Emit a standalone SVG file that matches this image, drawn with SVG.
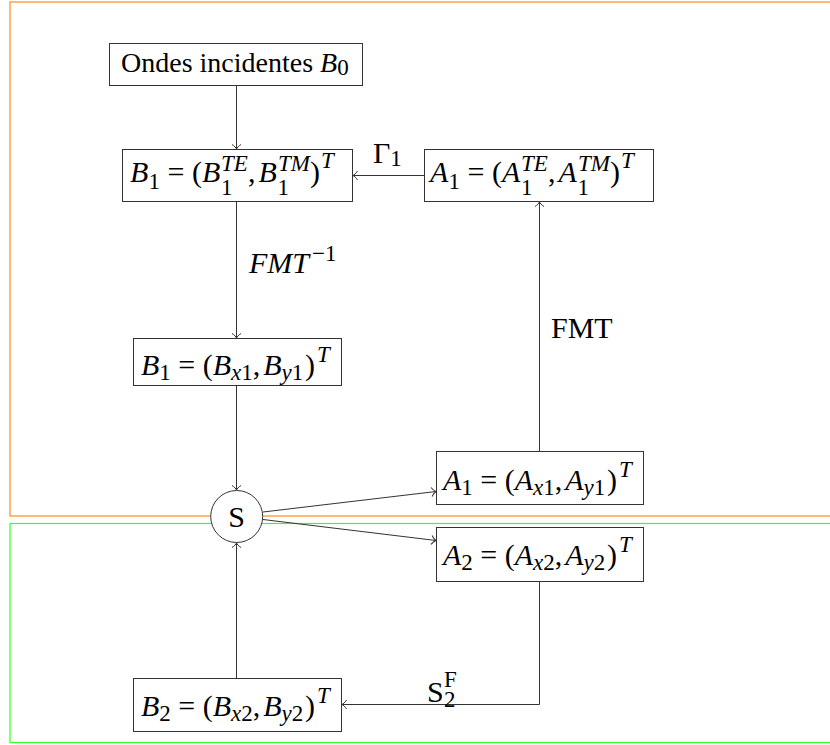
<svg xmlns="http://www.w3.org/2000/svg" width="830" height="745" viewBox="0 0 830 745">
<defs>
<marker id="arr" markerUnits="userSpaceOnUse" markerWidth="12" markerHeight="12" refX="0" refY="0" viewBox="-6 -6 12 12" orient="auto" overflow="visible">
<path d="M-4.5,-4.5 C-3,-2 -1.2,-0.6 0,0 C-1.2,0.6 -3,2 -4.5,4.5" fill="none" stroke="#333" stroke-width="1"/>
</marker>
</defs>
<style>
.box{fill:#fff;stroke:#333;stroke-width:1}
.con{fill:none;stroke:#333;stroke-width:1;marker-end:url(#arr)}
.m{font-family:"Liberation Serif","Times New Roman",serif;font-size:30px;fill:#000}
.t{font-size:28px}
.i{font-style:italic}
.s{font-size:23px}
.u{font-style:normal}
</style>
<rect x="10" y="2" width="840" height="514" fill="none" stroke="#ff8c1a" stroke-width="1.2"/>
<rect x="10" y="523.5" width="840" height="219" fill="none" stroke="#33ff33" stroke-width="1.2"/>
<g id="connectors">
<path class="con" d="M236.5,85.5 V149"/>
<path class="con" d="M236.5,201.5 V338"/>
<path class="con" d="M236.5,385.5 V490"/>
<path class="con" d="M236.5,678.5 V543"/>
<path class="con" d="M263,512 L436,491.5"/>
<path class="con" d="M263,519.5 L436,540.5"/>
<path class="con" d="M539.5,451.5 V202"/>
<path class="con" d="M424.5,175.5 H353"/>
<path class="con" d="M539.5,581.5 V704.5 H342"/>
</g>
<g id="labels">
<text class="m" x="373" y="163">Γ<tspan class="s" dy="3">1</tspan></text>
<text class="m i" x="249" y="273">FMT<tspan class="s u" dx="3" dy="-12">−1</tspan></text>
<text class="m" x="551" y="338" font-size="32">FMT</text>
<text class="m" x="427" y="702">S<tspan class="s" x="444" y="707">2</tspan><tspan class="s" font-size="20" x="444" y="687">F</tspan></text>
</g>
<g id="n0">
<rect class="box" x="109.5" y="43.5" width="253" height="42"/>
<text class="m t" x="121" y="72">Ondes incidentes <tspan class="i">B</tspan><tspan class="s" dy="3">0</tspan></text>
</g>
<g id="nB1te">
<rect class="box" x="122.5" y="149.5" width="230" height="52"/>
<text class="m"><tspan class="i" x="130" y="182">B</tspan><tspan class="s" x="148.5" y="189">1</tspan><tspan x="167.5" y="182">=</tspan><tspan x="192" y="182">(</tspan><tspan class="i" x="202" y="182">B</tspan><tspan class="s" x="221" y="195">1</tspan><tspan class="s i" x="221" y="171">TE</tspan><tspan x="248" y="182">,</tspan><tspan class="i" x="258.5" y="182">B</tspan><tspan class="s" x="277.5" y="195">1</tspan><tspan class="s i" x="278" y="171">TM</tspan><tspan x="310" y="182">)</tspan><tspan class="s i" x="321" y="168">T</tspan></text>
</g>
<g id="nA1te">
<rect class="box" x="424.5" y="149.5" width="229" height="52"/>
<text class="m"><tspan class="i" x="430" y="182">A</tspan><tspan class="s" x="448.5" y="189">1</tspan><tspan x="467.5" y="182">=</tspan><tspan x="492" y="182">(</tspan><tspan class="i" x="502" y="182">A</tspan><tspan class="s" x="521" y="195">1</tspan><tspan class="s i" x="521" y="171">TE</tspan><tspan x="548" y="182">,</tspan><tspan class="i" x="558.5" y="182">A</tspan><tspan class="s" x="577.5" y="195">1</tspan><tspan class="s i" x="578" y="171">TM</tspan><tspan x="610" y="182">)</tspan><tspan class="s i" x="621" y="168">T</tspan></text>
</g>
<g id="nB1xy">
<rect class="box" x="133.5" y="338.5" width="208" height="47"/>
<text class="m"><tspan class="i" x="141" y="375">B</tspan><tspan class="s" x="159.3" y="380">1</tspan><tspan x="178.3" y="375">=</tspan><tspan x="202.7" y="375">(</tspan><tspan class="i" x="212.7" y="375">B</tspan><tspan class="s" x="231" y="380"><tspan class="i">x</tspan>1</tspan><tspan x="252.7" y="375">,</tspan><tspan class="i" x="263.2" y="375">B</tspan><tspan class="s" x="281.5" y="380"><tspan class="i">y</tspan>1</tspan><tspan x="305" y="375">)</tspan><tspan class="s i" x="317" y="362">T</tspan></text>
</g>
<g id="nS">
<circle cx="236.7" cy="516.5" r="26" fill="#fff" stroke="#333" stroke-width="1"/>
<text class="m" x="236.7" y="527" text-anchor="middle">S</text>
</g>
<g id="nA1xy">
<rect class="box" x="436.5" y="451.5" width="207" height="53"/>
<text class="m"><tspan class="i" x="443" y="490">A</tspan><tspan class="s" x="461.3" y="495">1</tspan><tspan x="480.3" y="490">=</tspan><tspan x="504.7" y="490">(</tspan><tspan class="i" x="514.7" y="490">A</tspan><tspan class="s" x="533" y="495"><tspan class="i">x</tspan>1</tspan><tspan x="554.7" y="490">,</tspan><tspan class="i" x="565.2" y="490">A</tspan><tspan class="s" x="583.5" y="495"><tspan class="i">y</tspan>1</tspan><tspan x="607" y="490">)</tspan><tspan class="s i" x="619" y="477">T</tspan></text>
</g>
<g id="nA2xy">
<rect class="box" x="436.5" y="527.5" width="207" height="54"/>
<text class="m"><tspan class="i" x="443" y="565">A</tspan><tspan class="s" x="461.3" y="570">2</tspan><tspan x="480.3" y="565">=</tspan><tspan x="504.7" y="565">(</tspan><tspan class="i" x="514.7" y="565">A</tspan><tspan class="s" x="533" y="570"><tspan class="i">x</tspan>2</tspan><tspan x="554.7" y="565">,</tspan><tspan class="i" x="565.2" y="565">A</tspan><tspan class="s" x="583.5" y="570"><tspan class="i">y</tspan>2</tspan><tspan x="607" y="565">)</tspan><tspan class="s i" x="619" y="552">T</tspan></text>
</g>
<g id="nB2">
<rect class="box" x="133.5" y="678.5" width="208" height="53"/>
<text class="m"><tspan class="i" x="141" y="716">B</tspan><tspan class="s" x="159.3" y="721">2</tspan><tspan x="178.3" y="716">=</tspan><tspan x="202.7" y="716">(</tspan><tspan class="i" x="212.7" y="716">B</tspan><tspan class="s" x="231" y="721"><tspan class="i">x</tspan>2</tspan><tspan x="252.7" y="716">,</tspan><tspan class="i" x="263.2" y="716">B</tspan><tspan class="s" x="281.5" y="721"><tspan class="i">y</tspan>2</tspan><tspan x="305" y="716">)</tspan><tspan class="s i" x="317" y="703">T</tspan></text>
</g>
</svg>
